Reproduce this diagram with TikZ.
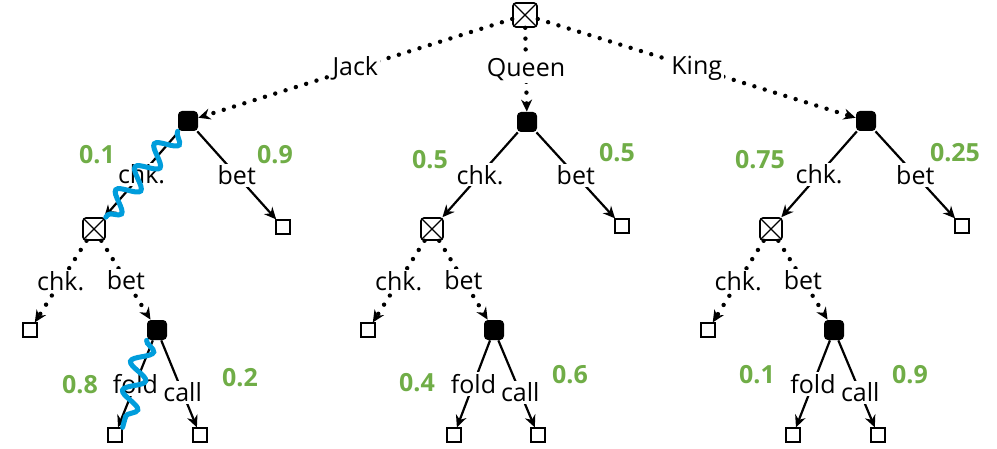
\documentclass[tikz,border=0pt]{standalone}
\usepackage{fontspec}
\setmainfont{Open Sans}
\usetikzlibrary{arrows.meta,decorations.pathmorphing}
\definecolor{probgreen}{RGB}{112,173,71}
\definecolor{strikeblue}{RGB}{0,157,220}
\tikzset{
  chance/.style={draw,line width=0.8pt,rounded corners=1.5pt,minimum size=11pt,inner sep=0pt,
    path picture={\draw[line width=0.6pt] (path picture bounding box.south west) -- (path picture bounding box.north east)
      (path picture bounding box.north west) -- (path picture bounding box.south east);}},
  player/.style={fill=black,rounded corners=2pt,minimum size=10pt,inner sep=0pt},
  leaf/.style={draw,line width=0.6pt,minimum size=7pt,inner sep=0pt},
  move/.style={line width=1.1pt,-{Stealth[length=6pt,width=5.5pt]}},
  nature/.style={line width=2.2pt,dash pattern=on 0pt off 5.4pt,line cap=round,-{Stealth[length=6pt,width=5.5pt]}},
  lbl/.style={fill=white,inner sep=1pt,font=\fontsize{12.5}{14}\selectfont},
  prob/.style={text=probgreen,font=\fontsize{12.5}{14}\selectfont\bfseries},
  strike/.style={strikeblue,line width=2.5pt,line cap=round,decorate,
    decoration={snake,amplitude=5pt,segment length=15pt}}
}
\begin{document}
\begin{tikzpicture}[x=0.5pt,y=-0.5pt]
\useasboundingbox (0,0) rectangle (997,449);
% deal
\node[chance,minimum size=12pt] (root) at (525,15) {};
\node[player] (jP) at (188,121) {};
\node[player] (qP) at (527,122) {};
\node[player] (kP) at (866,121) {};
\draw[nature] (root) -- node[lbl]{Jack} (jP);
\draw[nature] (root) -- node[lbl]{Queen} (qP);
\draw[nature] (root) -- node[lbl]{King} (kP);
% Jack
\node[chance] (jC) at (94,229) {};
\node[leaf] (jB) at (283,227) {};
\node[leaf] (jCC) at (30,330) {};
\node[player] (jCB) at (157,330) {};
\node[leaf] (jF) at (115,435) {};
\node[leaf] (jK) at (200,435) {};
\draw[move] (jP) -- node[lbl]{chk.} (jC);
\draw[move] (jP) -- node[lbl]{bet} (jB);
\draw[nature] (jC) -- node[lbl]{chk.} (jCC);
\draw[nature] (jC) -- node[lbl]{bet} (jCB);
\draw[move] (jCB) -- node[lbl]{fold} (jF);
\draw[move] (jCB) -- node[lbl,pos=.6]{call} (jK);
\node[prob] (jp1) at (97,155) {0.1};
\node[prob] (jp2) at (275,155) {0.9};
\node[prob] (jp3) at (80,385) {0.8};
\node[prob] (jp4) at (240,378) {0.2};
% Queen
\node[chance] (qC) at (432,229) {};
\node[leaf] (qB) at (622,226) {};
\node[leaf] (qCC) at (368,330) {};
\node[player] (qCB) at (494,330) {};
\node[leaf] (qF) at (454,435) {};
\node[leaf] (qK) at (538,435) {};
\draw[move] (qP) -- node[lbl]{chk.} (qC);
\draw[move] (qP) -- node[lbl]{bet} (qB);
\draw[nature] (qC) -- node[lbl]{chk.} (qCC);
\draw[nature] (qC) -- node[lbl]{bet} (qCB);
\draw[move] (qCB) -- node[lbl]{fold} (qF);
\draw[move] (qCB) -- node[lbl,pos=.6]{call} (qK);
\node[prob] (qp1) at (430,160) {0.5};
\node[prob] (qp2) at (617,153) {0.5};
\node[prob] (qp3) at (417,383) {0.4};
\node[prob] (qp4) at (570,375) {0.6};
% King
\node[chance] (kC) at (771,229) {};
\node[leaf] (kB) at (962,226) {};
\node[leaf] (kCC) at (708,330) {};
\node[player] (kCB) at (834,330) {};
\node[leaf] (kF) at (793,435) {};
\node[leaf] (kK) at (878,435) {};
\draw[move] (kP) -- node[lbl]{chk.} (kC);
\draw[move] (kP) -- node[lbl]{bet} (kB);
\draw[nature] (kC) -- node[lbl]{chk.} (kCC);
\draw[nature] (kC) -- node[lbl]{bet} (kCB);
\draw[move] (kCB) -- node[lbl]{fold} (kF);
\draw[move] (kCB) -- node[lbl,pos=.6]{call} (kK);
\node[prob] (kp1) at (760,160) {0.75};
\node[prob] (kp2) at (955,153) {0.25};
\node[prob] (kp3) at (757,375) {0.1};
\node[prob] (kp4) at (910,375) {0.9};
% pruned moves
\draw[strike] (jP.south west) -- (jC.north east);
\draw[strike] (jCB.south west) -- (jF.north east);
\end{tikzpicture}
\end{document}
